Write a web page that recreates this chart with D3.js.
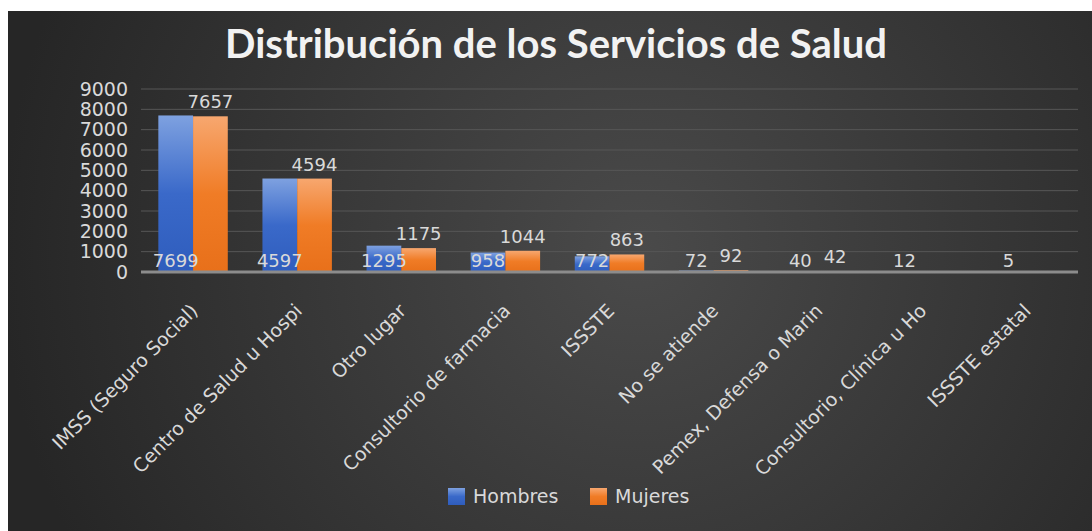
<!DOCTYPE html>
<html>
<head>
<meta charset="utf-8">
<script src="https://d3js.org/d3.v7.min.js"></script>
<style>
  body { margin: 0; background: #fff; }
  svg { display: block; }
</style>
</head>
<body>
<div id="chart"></div>
<script>

// data
var categorias = ["IMSS (Seguro Social)", "Centro de Salud u Hospi", "Otro lugar",
                  "Consultorio de farmacia", "ISSSTE", "No se atiende",
                  "Pemex, Defensa o Marin", "Consultorio, Clínica u Ho", "ISSSTE estatal"];
var hombres = [7699, 4597, 1295, 958, 772, 72, 40, 12, 5];
var mujeres = [7657, 4594, 1175, 1044, 863, 92, 42, null, null];
var series = ["Hombres", "Mujeres"];
var yTicks = [0, 1000, 2000, 3000, 4000, 5000, 6000, 7000, 8000, 9000];

var width = 1092, height = 531;
var plot = {left: 141, right: 1078, top: 89, bottom: 272};
var txtColor = "#d9d9d9";
var smallFont = "DejaVu Sans";

var svg = d3.select("#chart").append("svg")
    .attr("width", width)
    .attr("height", height);

var defs = svg.append("defs");

// dark radial background like the excel style
var bg = defs.append("radialGradient")
    .attr("id", "bg")
    .attr("gradientUnits", "userSpaceOnUse")
    .attr("cx", 640).attr("cy", 250).attr("r", 640);
bg.append("stop").attr("offset", "0%").attr("stop-color", "#4a4a4a");
bg.append("stop").attr("offset", "100%").attr("stop-color", "#262626");

var barColors = {
  Hombres: ["#7ea1e0", "#3a69c9", "#2f5dbd"],
  Mujeres: ["#f7a76f", "#f07c26", "#e8701a"]
};
series.forEach(function (s) {
  var g = defs.append("linearGradient")
      .attr("id", "grad-" + s)
      .attr("x1", 0).attr("y1", 0).attr("x2", 0).attr("y2", 1);
  g.append("stop").attr("offset", "0%").attr("stop-color", barColors[s][0]);
  g.append("stop").attr("offset", "50%").attr("stop-color", barColors[s][1]);
  g.append("stop").attr("offset", "100%").attr("stop-color", barColors[s][2]);
});

svg.append("rect")
    .attr("x", 8).attr("y", 11)
    .attr("width", width - 8).attr("height", height - 11)
    .attr("fill", "url(#bg)");

// Title
svg.append("text")
    .attr("x", 556)
    .attr("y", 58)
    .attr("text-anchor", "middle")
    .attr("font-family", "Lato")
    .attr("font-weight", "bold")
    .attr("font-size", "40px")
    .attr("fill", "#f2f2f2")
    .text("Distribución de los Servicios de Salud");

// Scales
var x0 = d3.scaleBand()
    .domain(categorias)
    .range([plot.left, plot.right])
    .paddingInner(0.333)
    .paddingOuter(0.1665);

var x1 = d3.scaleBand()
    .domain(series)
    .range([0, x0.bandwidth()])
    .padding(0);

var y = d3.scaleLinear()
    .domain([0, 9000])
    .range([plot.bottom, plot.top]);

// gridlines
svg.append("g")
    .selectAll("line")
    .data(yTicks.slice(1))
    .enter()
    .append("line")
    .attr("x1", plot.left)
    .attr("x2", plot.right)
    .attr("y1", function (d) { return y(d); })
    .attr("y2", function (d) { return y(d); })
    .attr("stroke", "#575757")
    .attr("stroke-width", 1);

// y axis labels
var yAxis = d3.axisLeft(y)
    .tickValues(yTicks)
    .tickFormat(d3.format("d"))
    .tickSize(0)
    .tickPadding(0);
var gy = svg.append("g")
    .attr("transform", "translate(128,0)")
    .call(yAxis);
gy.select(".domain").remove();
gy.selectAll("text")
    .attr("font-family", smallFont)
    .attr("font-size", "19px")
    .attr("fill", txtColor);

// bars
var rows = categorias.map(function (c, i) {
  return {cat: c, Hombres: hombres[i], Mujeres: mujeres[i]};
});

var groups = svg.append("g")
    .selectAll("g")
    .data(rows)
    .enter()
    .append("g")
    .attr("transform", function (d) { return "translate(" + x0(d.cat) + ",0)"; });

groups.selectAll("rect")
    .data(function (d) {
      return series.map(function (s) { return {key: s, value: d[s]}; });
    })
    .enter()
    .append("rect")
    .filter(function (d) { return d.value != null; })
    .attr("x", function (d) { return x1(d.key); })
    .attr("y", function (d) { return y(d.value); })
    .attr("width", x1.bandwidth())
    .attr("height", function (d) { return y(0) - y(d.value); })
    .attr("fill", function (d) { return "url(#grad-" + d.key + ")"; });

// axis baseline
svg.append("line")
    .attr("x1", plot.left)
    .attr("x2", plot.right)
    .attr("y1", y(0))
    .attr("y2", y(0))
    .attr("stroke", "#8c8c8c")
    .attr("stroke-width", 3);

// data labels: Hombres inside base, Mujeres outside end
groups.selectAll(".lbl")
    .data(function (d) {
      return series.map(function (s) { return {key: s, value: d[s]}; });
    })
    .enter()
    .filter(function (d) { return d.value != null; })
    .append("text")
    .attr("class", "lbl")
    .attr("x", function (d) { return x1(d.key) + x1.bandwidth() / 2; })
    .attr("y", function (d) {
      return d.key == "Hombres" ? y(0) - 5 : y(d.value) - 8;
    })
    .attr("text-anchor", "middle")
    .attr("font-family", smallFont)
    .attr("font-size", "18px")
    .attr("fill", txtColor)
    .text(function (d) { return d.value; });

// category labels, rotated
svg.append("g")
    .selectAll("text")
    .data(categorias)
    .enter()
    .append("text")
    .attr("transform", function (d) {
      return "translate(" + (x0(d) + x0.bandwidth() / 2 + 6) + "," + (y(0) + 40) + ") rotate(-45)";
    })
    .attr("text-anchor", "end")
    .attr("font-family", smallFont)
    .attr("font-size", "19px")
    .attr("fill", txtColor)
    .text(function (d) { return d; });

// legend
var legend = svg.append("g")
    .selectAll("g")
    .data(series)
    .enter()
    .append("g")
    .attr("transform", function (d, i) { return "translate(" + (448 + i * 142) + ",488)"; });

legend.append("rect")
    .attr("width", 17)
    .attr("height", 17)
    .attr("fill", function (d) { return "url(#grad-" + d + ")"; });

legend.append("text")
    .attr("x", 25)
    .attr("y", 15)
    .attr("font-family", smallFont)
    .attr("font-size", "19px")
    .attr("fill", txtColor)
    .text(function (d) { return d; });

</script>
</body>
</html>
